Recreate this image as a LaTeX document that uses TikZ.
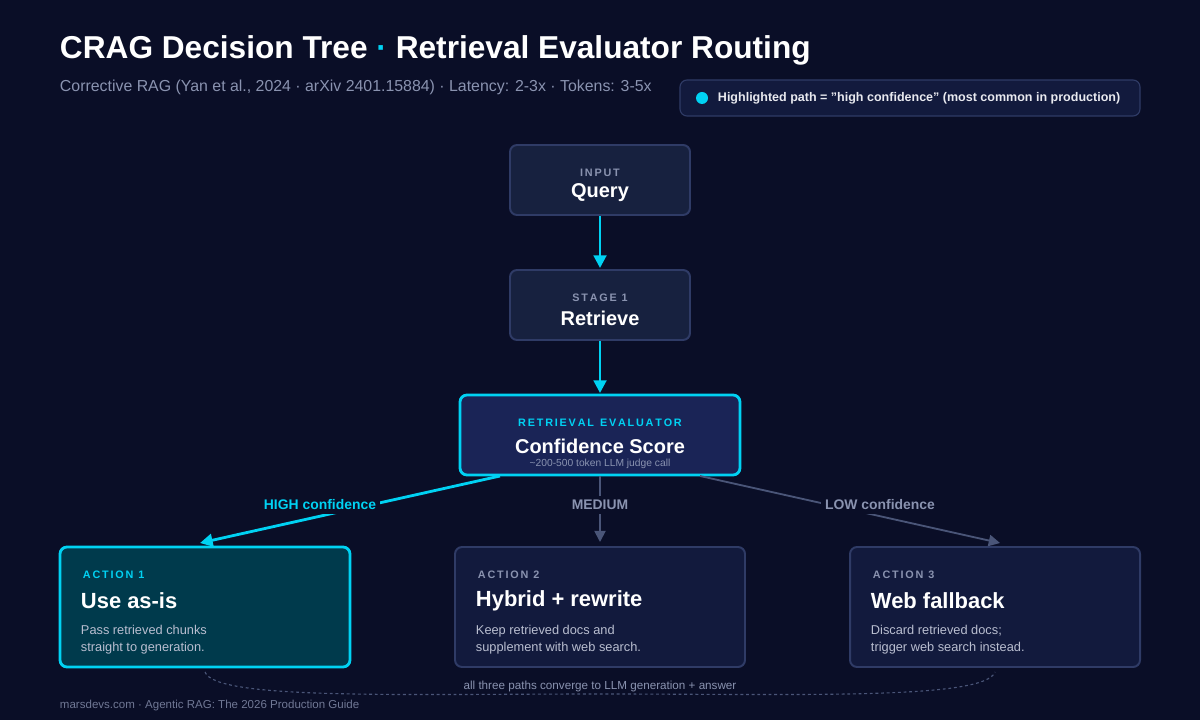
\documentclass[tikz,border=0pt]{standalone}
\usepackage{fontspec}
\setmainfont{Liberation Sans}
\usetikzlibrary{positioning,arrows.meta}
\definecolor{bg}{HTML}{0A0E27}
\definecolor{boxfill}{HTML}{17213F}
\definecolor{boxline}{HTML}{2F3B66}
\definecolor{cyan}{HTML}{00D2F3}
\definecolor{evalfill}{HTML}{1A2456}
\definecolor{hifill}{HTML}{003A4C}
\definecolor{actfill}{HTML}{121A3D}
\definecolor{greytxt}{HTML}{8A93B0}
\definecolor{dimline}{HTML}{4A5578}
\tikzset{
  box/.style={draw=boxline, line width=1.4pt, fill=boxfill, rounded corners=5pt},
  kicker/.style={font=\fontsize{7.7}{9}\selectfont\bfseries, text=greytxt},
  big/.style={font=\fontsize{14.2}{16}\selectfont\bfseries, text=white},
  title/.style={font=\fontsize{15.6}{18}\selectfont\bfseries, text=white, anchor=west},
  desc/.style={font=\fontsize{9.1}{12}\selectfont, text=greytxt!60!white, anchor=north west, align=left},
  hot/.style={-{Triangle[length=9pt,width=9pt]}, cyan, line width=2pt},
  cold/.style={-{Triangle[length=8pt,width=8pt]}, dimline, line width=1.3pt},
  lbl/.style={font=\fontsize{9.9}{11}\selectfont\bfseries, fill=bg, inner sep=3pt}
}
\begin{document}
\begin{tikzpicture}[x=0.025cm, y=-0.025cm]
\fill[bg] (0,0) rectangle (1200,720);
\useasboundingbox (0,0) rectangle (1200,720);

% header
\node[anchor=west, font=\fontsize{22.5}{26}\selectfont\bfseries, text=white] (head) at (55,50)
  {CRAG Decision Tree \textcolor{cyan}{·} Retrieval Evaluator Routing};
\node[anchor=west, font=\fontsize{11.3}{13}\selectfont, text=greytxt] (sub) at (55,87)
  {Corrective RAG (Yan et al., 2024 · arXiv 2401.15884) · Latency: 2-3x · Tokens: 3-5x};
\draw[box, fill=actfill, line width=0.8pt] (680,80) rectangle (1140,116);
\fill[cyan] (702,98) circle (6);
\node[anchor=west, font=\fontsize{8.9}{10}\selectfont\bfseries, text=white!80!greytxt] (legend) at (713,98)
  {Highlighted path = \char34 high confidence\char34{} (most common in production)};

% pipeline
\draw[box] (510,145) rectangle (690,215);
\node[kicker] (qcap) at (600,173) {I\,N\,P\,U\,T};
\node[big] (query) at (600,193) {Query};
\coordinate (qbot) at (600,216);

\draw[box] (510,270) rectangle (690,340);
\node[kicker] (rcap) at (600,298) {S\,T\,A\,G\,E\, 1};
\node[big] (retr) at (600,318) {Retrieve};
\coordinate (rtop) at (600,268);
\coordinate (rbot) at (600,341);

\draw[box, draw=cyan, fill=evalfill, line width=2pt] (460,395) rectangle (740,475);
\node[kicker, text=cyan] (ecap) at (600,423) {R\,E\,T\,R\,I\,E\,V\,A\,L\ \ E\,V\,A\,L\,U\,A\,T\,O\,R};
\node[big] (score) at (600,446) {Confidence Score};
\node[font=\fontsize{7.3}{8}\selectfont, text=greytxt] (ecost) at (600,464) {\textasciitilde 200-500 token LLM judge call};
\coordinate (etop) at (600,393);
\coordinate (ehi) at (500,476);
\coordinate (emid) at (600,476);
\coordinate (elo) at (700,476);

\draw[hot] (qbot) -- (rtop);
\draw[hot] (rbot) -- (etop);

% actions
\draw[box, draw=cyan, fill=hifill, line width=2pt] (60,547) rectangle (350,667);
\node[kicker, text=cyan, anchor=west] (a1cap) at (78,575) {A\,C\,T\,I\,O\,N\, 1};
\node[title] (a1) at (76,601) {Use as-is};
\node[desc] (a1d) at (76,620) {Pass retrieved chunks\\straight to generation.};
\coordinate (a1top) at (200,543);

\draw[box, fill=actfill] (455,547) rectangle (745,667);
\node[kicker, anchor=west] (a2cap) at (473,575) {A\,C\,T\,I\,O\,N\, 2};
\node[title] (a2) at (471,601) {Hybrid + rewrite};
\node[desc] (a2d) at (471,620) {Keep retrieved docs and\\supplement with web search.};
\coordinate (a2top) at (600,542);

\draw[box, fill=actfill] (850,547) rectangle (1140,667);
\node[kicker, anchor=west] (a3cap) at (868,575) {A\,C\,T\,I\,O\,N\, 3};
\node[title] (a3) at (866,601) {Web fallback};
\node[desc] (a3d) at (866,620) {Discard retrieved docs;\\trigger web search instead.};
\coordinate (a3top) at (1000,543);

\draw[hot] (ehi) -- (a1top);
\draw[cold] (emid) -- (a2top);
\draw[cold] (elo) -- (a3top);
\node[lbl, text=cyan] (lhi) at (320,505) {HIGH confidence};
\node[lbl, text=greytxt] (lmid) at (600,505) {MEDIUM};
\node[lbl, text=greytxt] (llo) at (880,505) {LOW confidence};

% convergence
\coordinate (c1) at (205,672);
\coordinate (c3) at (995,672);
\draw[dimline, dash pattern=on 2pt off 2pt, line width=0.8pt]
  (c1) .. controls (215,700) and (400,694) .. (600,694) .. controls (800,694) and (985,700) .. (c3);
\node[font=\fontsize{8.3}{9}\selectfont, text=greytxt, fill=bg, inner sep=1pt] (conv) at (600,686)
  {all three paths converge to LLM generation + answer};
\node[anchor=west, font=\fontsize{8.2}{9}\selectfont, text=greytxt!80!bg] (foot) at (55,706)
  {marsdevs.com · Agentic RAG: The 2026 Production Guide};
\end{tikzpicture}
\end{document}
